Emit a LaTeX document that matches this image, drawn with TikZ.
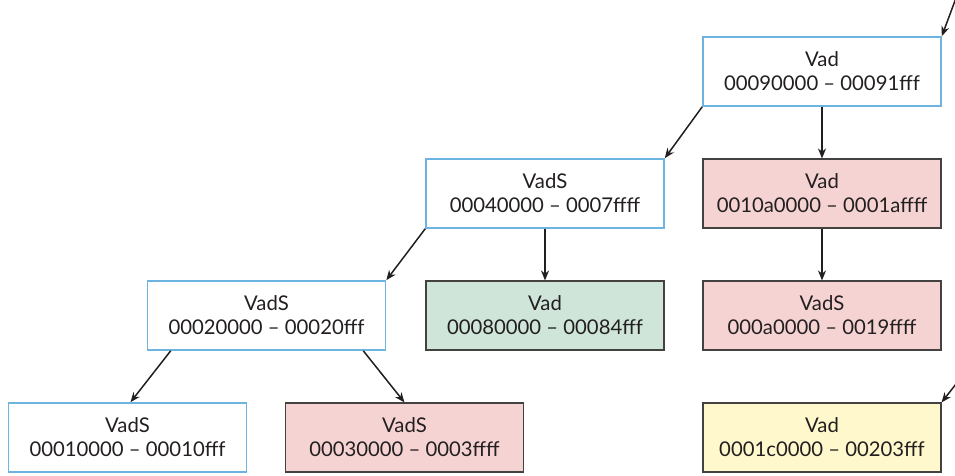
\documentclass[tikz,border=0pt]{standalone}
\usepackage{fontspec}
\setmainfont{Lato}
\usetikzlibrary{arrows.meta,positioning}
\definecolor{vadblue}{RGB}{110,180,225}
\definecolor{vadline}{RGB}{35,31,32}
\definecolor{vadpink}{RGB}{246,211,211}
\definecolor{vadgreen}{RGB}{207,229,217}
\definecolor{vadyellow}{RGB}{255,248,204}

\begin{document}
\begin{tikzpicture}[x=1pt, y=-1pt,
    >={Stealth[length=10pt, width=8pt]},
    vad/.style={rectangle, draw=vadblue, line width=1.6pt, fill=white,
      minimum width=238pt, minimum height=69pt, inner sep=0pt, align=center,
      font=\fontsize{20.3}{24}\selectfont, text=vadline},
    used/.style={vad, draw=vadline!85, line width=1.1pt},
    link/.style={->, vadline, line width=1.5pt}]
    \useasboundingbox (0,0) rectangle (955,475);
    % --- Root and its children ---
    \node[vad] (root) at (822,71.5) {Vad\\00090000 -- 00091fff};
    \node[vad] (s40) at (545,193.5) {VadS\\00040000 -- 0007ffff};
    \node[used, fill=vadpink] (v10a) at (822,193.5) {Vad\\0010a0000 -- 0001affff};
    % --- Third row ---
    \node[vad] (s20) at (266.5,315.5) {VadS\\00020000 -- 00020fff};
    \node[used, fill=vadgreen] (v80) at (545,315.5) {Vad\\00080000 -- 00084fff};
    \node[used, fill=vadpink] (sa0) at (822,315.5) {VadS\\000a0000 -- 0019ffff};
    % --- Bottom row ---
    \node[vad] (s10) at (127.5,437.5) {VadS\\00010000 -- 00010fff};
    \node[used, fill=vadpink] (s30) at (404.5,437.5) {VadS\\00030000 -- 0003ffff};
    \node[used, fill=vadyellow] (v1c) at (822,437.5) {Vad\\0001c0000 -- 00203fff};
    % --- Free ends of the incoming links ---
    \coordinate (inroot) at (956,-2);
    \coordinate (inv1c) at (956,384);
    % --- Links ---
    \draw[link] (inroot) -- (root.north east);
    \draw[link] (inv1c) -- (v1c.north east);
    \draw[link] (root.south west) -- (s40.north east);
    \draw[link] (root.south) -- (v10a.north);
    \draw[link] (s40.south west) -- (s20.north east);
    \draw[link] (s40.south) -- (v80.north);
    \draw[link] (v10a.south) -- (sa0.north);
    \draw[link] ([xshift=24pt]s20.south west) -- ([xshift=3pt]s10.north);
    \draw[link] ([xshift=-23pt]s20.south east) -- (s30.north);
  \end{tikzpicture}
\end{document}
